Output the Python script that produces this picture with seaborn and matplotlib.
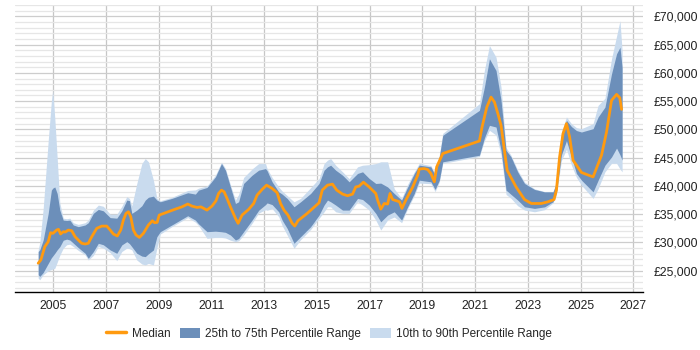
import matplotlib
matplotlib.use("Agg")
import matplotlib.pyplot as plt
from matplotlib.lines import Line2D
from matplotlib.patches import Patch
from matplotlib.ticker import FixedLocator, MultipleLocator, FuncFormatter
import pandas as pd
import seaborn as sns

# percentile bands
band_years = [
    2004.43, 2004.49, 2004.62, 2004.81, 2004.93, 2004.98, 2005.06, 2005.15, 2005.25, 2005.38,
    2005.51, 2005.63, 2005.76, 2005.95, 2006.21, 2006.33, 2006.52, 2006.71, 2006.90, 2007.16,
    2007.41, 2007.60, 2007.79, 2007.89, 2007.98, 2008.17, 2008.36, 2008.49, 2008.61, 2008.80,
    2008.93, 2009.06, 2009.50, 2010.10, 2010.39, 2010.51, 2010.83, 2011.15, 2011.38, 2011.53,
    2011.72, 2011.91, 2012.03, 2012.22, 2012.54, 2012.79, 2013.05, 2013.11, 2013.30, 2013.55,
    2013.68, 2013.87, 2014.13, 2014.38, 2014.76, 2015.08, 2015.27, 2015.40, 2015.52, 2015.71,
    2015.97, 2016.22, 2016.54, 2016.73, 2016.98, 2017.23, 2017.42, 2017.68, 2017.93, 2018.21,
    2018.44, 2018.69, 2018.88, 2019.32, 2019.48, 2019.64, 2019.77, 2021.16, 2021.35, 2021.54,
    2021.79, 2021.98, 2022.17, 2022.36, 2022.61, 2022.87, 2023.25, 2023.63, 2023.95, 2024.08,
    2024.27, 2024.46, 2024.65, 2024.84, 2025.03, 2025.47, 2025.66, 2025.92, 2026.17, 2026.36,
    2026.49, 2026.57,
]
p10 = [
    23700, 23400, 24300, 25000, 25200, 25300, 25440, 26500, 27750, 29000,
    29600, 29700, 29300, 28600, 27800, 26900, 27700, 29300, 29000, 28200,
    26800, 28400, 29000, 28900, 28700, 26900, 26200, 26030, 26300, 26030,
    29000, 31500, 32800, 34400, 33600, 33000, 30740, 30900, 30900, 30800,
    30400, 30150, 30300, 31300, 33400, 35200, 35800, 35700, 36000, 34560,
    33000, 31320, 28970, 30500, 32300, 34270, 35430, 36320, 36300, 35430,
    35150, 35150, 37200, 36620, 35730, 33960, 32200, 34000, 34500, 33500,
    36000, 38300, 40500, 40400, 39000, 40700, 44000, 45200, 48000, 49840,
    49000, 45500, 38500, 37800, 36500, 35730, 35430, 35800, 37000, 38500,
    44500, 46500, 43670, 41500, 40140, 37800, 39500, 42500, 44000, 44000,
    43000, 42490,
]
p25 = [
    24300, 24000, 24700, 26300, 27300, 27600, 28090, 28700, 29260, 30400,
    30600, 30440, 29900, 29100, 28090, 27210, 28380, 29860, 29600, 28680,
    28090, 29570, 30150, 29800, 29260, 28090, 27600, 27500, 28000, 28680,
    31020, 31910, 33100, 34730, 33960, 33300, 31910, 32000, 31900, 31800,
    31320, 30440, 30700, 31910, 33960, 35700, 36700, 37000, 36700, 35430,
    33960, 32500, 29860, 31020, 32790, 34850, 36620, 37500, 37200, 36620,
    35730, 35730, 37790, 37600, 36620, 35150, 33660, 34850, 35430, 33960,
    36320, 38670, 41020, 40730, 39380, 41020, 44270, 45430, 48500, 50720,
    50420, 46310, 39260, 38500, 37500, 36320, 36030, 36300, 37200, 39000,
    45500, 48000, 45130, 42200, 41020, 38960, 41000, 43670, 45130, 46700,
    45500, 44560,
]
p75 = [
    28400, 28700, 30440, 35150, 39260, 39600, 39820, 38670, 35730, 33960,
    33900, 33960, 33100, 32800, 33100, 33500, 35150, 35850, 35600, 34400,
    34300, 35600, 37500, 37400, 35150, 35730, 36500, 37500, 38000, 38200,
    37500, 37200, 37800, 38800, 38560, 39260, 39730, 41600, 43960, 42790,
    39820, 36900, 37200, 40440, 41900, 42790, 43070, 42700, 40730, 38960,
    38560, 37800, 36320, 37200, 38670, 40440, 42790, 43380, 43670, 42790,
    41900, 40730, 42210, 42500, 41330, 40440, 40500, 39820, 38670, 37500,
    39820, 42200, 43670, 43380, 41900, 45130, 48960, 53370, 57500, 62490,
    60420, 55130, 46310, 45130, 42500, 40440, 39380, 38960, 38960, 40500,
    49000, 51600, 50500, 49800, 49540, 50130, 52190, 53950, 59840, 63370,
    64530, 61000,
]
p90 = [
    28700, 30000, 36000, 48000, 55000, 56900, 52000, 45000, 37000, 34300,
    34200, 34300, 33500, 33200, 33500, 34000, 35700, 36620, 36400, 35000,
    35000, 36400, 38100, 37800, 36500, 40440, 43960, 44850, 44270, 41000,
    37800, 37400, 38000, 39200, 39300, 39600, 40000, 41900, 44200, 43100,
    40200, 37500, 38500, 41500, 43000, 43960, 43960, 43070, 41500, 39820,
    39100, 38300, 37200, 37800, 39700, 41300, 43960, 44560, 44850, 43670,
    42500, 41300, 43380, 43670, 43760, 43960, 44270, 44270, 39500, 37800,
    40300, 42500, 44000, 43600, 42200, 45500, 49300, 54550, 60500, 64830,
    62770, 57470, 46800, 45400, 42800, 40700, 39500, 39000, 39000, 40700,
    49500, 52200, 51000, 50300, 50130, 51020, 54250, 55500, 62500, 66500,
    69240, 63950,
]

# median salary
median_years = [
    2004.43, 2004.53, 2004.68, 2004.81, 2004.90, 2004.99, 2005.13, 2005.20, 2005.28, 2005.38,
    2005.46, 2005.57, 2005.70, 2005.83, 2005.95, 2006.08, 2006.21, 2006.33, 2006.46, 2006.65,
    2006.84, 2007.03, 2007.16, 2007.28, 2007.43, 2007.56, 2007.66, 2007.76, 2007.85, 2007.94,
    2008.04, 2008.14, 2008.27, 2008.42, 2008.61, 2008.76, 2008.84, 2008.94, 2009.02, 2009.25,
    2009.63, 2009.88, 2010.10, 2010.26, 2010.45, 2010.60, 2010.83, 2011.02, 2011.17, 2011.27,
    2011.38, 2011.48, 2011.59, 2011.72, 2011.91, 2012.01, 2012.16, 2012.41, 2012.60, 2012.73,
    2012.92, 2013.09, 2013.30, 2013.49, 2013.62, 2013.75, 2013.90, 2014.06, 2014.16, 2014.28,
    2014.63, 2015.08, 2015.20, 2015.40, 2015.59, 2015.75, 2015.97, 2016.16, 2016.35, 2016.47,
    2016.60, 2016.76, 2016.98, 2017.23, 2017.30, 2017.42, 2017.55, 2017.68, 2017.77, 2017.87,
    2018.02, 2018.13, 2018.22, 2018.37, 2018.63, 2018.82, 2018.88, 2019.07, 2019.20, 2019.32,
    2019.45, 2019.54, 2019.77, 2021.16, 2021.26, 2021.44, 2021.60, 2021.73, 2021.86, 2021.98,
    2022.11, 2022.21, 2022.55, 2022.87, 2023.13, 2023.51, 2023.76, 2023.99, 2024.08, 2024.20,
    2024.33, 2024.46, 2024.58, 2024.71, 2025.03, 2025.47, 2025.79, 2025.98, 2026.17, 2026.36,
    2026.48, 2026.55,
]
median = [
    26330, 26900, 29260, 30140, 31730, 31620, 32200, 32330, 31500, 31900,
    31850, 32200, 32080, 31020, 30440, 29860, 29730, 29860, 31020, 32500,
    32900, 32900, 32200, 31500, 31150, 32200, 33960, 35150, 35430, 34550,
    32200, 31320, 30900, 31620, 33100, 33850, 33500, 33550, 34850, 35250,
    35900, 36300, 36800, 36440, 36200, 36300, 35730, 36440, 37370, 38670,
    39260, 38960, 37800, 36300, 34270, 33390, 34850, 35850, 36900, 38380,
    39380, 40140, 39560, 38800, 36900, 35730, 34850, 33390, 32910, 33850,
    35150, 37020, 39260, 40140, 40320, 39260, 38560, 38270, 38560, 39820,
    39970, 40670, 39820, 38670, 37500, 35900, 36900, 36800, 38670, 37600,
    37370, 37200, 36030, 37500, 39820, 41900, 43000, 43070, 42900, 42200,
    40730, 43370, 45730, 47950, 50420, 53950, 55710, 54830, 52790, 50720,
    46310, 42790, 39820, 37600, 36900, 36900, 37200, 37600, 39260, 45130,
    49250, 51020, 48660, 44550, 42380, 41600, 45430, 49540, 55130, 56190,
    55600, 53540,
]

year_ticks = list(range(2005, 2028, 2))
salary_ticks = list(range(25000, 70001, 5000))
legend_labels = ["Median", "25th to 75th Percentile Range", "10th to 90th Percentile Range"]

median_color = "#ff9a0f"
iqr_color = "#6c8fba"
outer_color = "#c9dbee"

bands = pd.DataFrame({"year": band_years, "p10": p10, "p25": p25, "p75": p75, "p90": p90})
med = pd.DataFrame({"year": median_years, "salary": median})

sns.set_theme(style="white")
plt.rcParams["font.family"] = ["Liberation Sans", "DejaVu Sans"]

fig = plt.figure(figsize=(7, 3.5), dpi=100)
ax = fig.add_axes([0.0214, 0.1666, 0.8967, 0.8191])

ax.fill_between(bands["year"], bands["p10"], bands["p90"], color=outer_color, lw=0, zorder=2)
ax.fill_between(bands["year"], bands["p25"], bands["p75"], color=iqr_color, lw=0, zorder=3)
sns.lineplot(data=med, x="year", y="salary", color=median_color, lw=2.0, ax=ax, zorder=4)

ax.set_xlim(2003.55, 2027.35)
ax.set_ylim(21300, 72000)

ax.xaxis.set_major_locator(FixedLocator(year_ticks))
ax.yaxis.set_major_locator(FixedLocator(salary_ticks))
ax.yaxis.set_minor_locator(MultipleLocator(1000))
ax.yaxis.set_major_formatter(FuncFormatter(lambda v, _: f"£{v:,.0f}"))
ax.yaxis.tick_right()

ax.grid(axis="y", which="minor", color="#e6e6e6", lw=0.9, zorder=0)
ax.grid(axis="y", which="major", color="#cdcdcd", lw=0.9, zorder=0)
ax.grid(axis="x", which="major", color="#c6c6c6", lw=0.9, zorder=0)
ax.set_axisbelow(True)

ax.tick_params(axis="both", which="both", length=0, labelsize=8.7, colors="#222222")
ax.tick_params(axis="x", pad=6)
ax.tick_params(axis="y", pad=8)
ax.set_xlabel("")
ax.set_ylabel("")

for side in ["top", "right", "left"]:
    ax.spines[side].set_visible(False)
ax.spines["bottom"].set_color("#000000")
ax.spines["bottom"].set_linewidth(1.0)

handles = [
    Line2D([], [], color=median_color, lw=2.5),
    Patch(facecolor=iqr_color, edgecolor="none"),
    Patch(facecolor=outer_color, edgecolor="none"),
]
fig.legend(handles, legend_labels, loc="center", bbox_to_anchor=(0.47, 0.046), ncol=3,
           frameon=False, fontsize=8.5, handlelength=1.7, handleheight=1.0,
           columnspacing=0.8, handletextpad=0.45)

fig.savefig("out.png", dpi=100)
